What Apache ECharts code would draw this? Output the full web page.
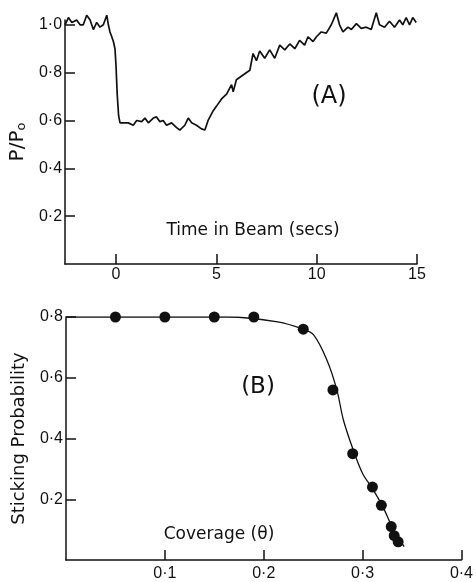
<!DOCTYPE html>
<html>
<head>
<meta charset="utf-8">
<script src="https://cdn.jsdelivr.net/npm/echarts@6/dist/echarts.min.js"></script>
<style>
  html, body { margin: 0; padding: 0; background: #fff; }
  #main { width: 476px; height: 582px; }
</style>
</head>
<body>
<div id="main"></div>
<script>
// (A) pressure ratio vs time in beam
var timeSecs = [-2.54, -2.37, -2.20, -1.96, -1.79, -1.63, -1.46, -1.29, -1.13, -0.96, -0.80, -0.63, -0.46, -0.38, -0.30, -0.21, -0.13, -0.05,
  0.00, 0.06, 0.13, 0.20, 0.36, 0.61, 0.86, 1.03, 1.28, 1.44, 1.61, 1.86, 2.02, 2.19, 2.35, 2.52, 2.77, 3.02, 3.18, 3.43, 3.60, 3.77,
  4.01, 4.26, 4.43, 4.59, 4.84, 5.01, 5.26, 5.51, 5.76, 5.84, 6.00, 6.33, 6.67, 6.83, 7.00, 7.16, 7.41, 7.66, 7.91, 8.16, 8.41, 8.66,
  8.91, 9.15, 9.40, 9.57, 9.82, 9.99, 10.23, 10.48, 10.73, 10.98, 11.14, 11.31, 11.56, 11.73, 11.98, 12.22, 12.47, 12.72, 12.97, 13.13,
  13.38, 13.63, 13.88, 14.13, 14.29, 14.46, 14.63, 14.79, 14.96];
var pRatio = [1.00, 1.03, 1.01, 1.02, 1.00, 1.00, 1.04, 1.02, 0.98, 1.01, 0.99, 1.00, 1.04, 1.00, 0.97, 0.95, 0.93, 0.90,
  0.83, 0.71, 0.62, 0.59, 0.59, 0.59, 0.58, 0.60, 0.595, 0.61, 0.59, 0.61, 0.615, 0.595, 0.60, 0.58, 0.59, 0.57, 0.56, 0.58, 0.61, 0.59,
  0.58, 0.565, 0.56, 0.60, 0.64, 0.66, 0.69, 0.71, 0.75, 0.72, 0.77, 0.79, 0.81, 0.88, 0.85, 0.89, 0.86, 0.895, 0.86, 0.915, 0.895, 0.92,
  0.90, 0.935, 0.915, 0.95, 0.93, 0.95, 0.97, 0.965, 1.00, 1.05, 1.00, 0.97, 0.99, 0.98, 1.005, 0.985, 0.99, 0.98, 1.05, 1.00,
  0.99, 1.015, 0.99, 1.02, 1.00, 1.03, 1.00, 1.03, 1.01];
var timeTicks = [0, 5, 10, 15];
var pTicks = [0.2, 0.4, 0.6, 0.8, 1.0];

// (B) sticking probability vs coverage
var coverage = [0.05, 0.10, 0.15, 0.19, 0.24, 0.27, 0.29, 0.31, 0.319, 0.329, 0.332, 0.336];
var sticking = [0.80, 0.80, 0.80, 0.80, 0.76, 0.56, 0.35, 0.24, 0.18, 0.11, 0.08, 0.06];
var fitCoverage = [0, 0.10, 0.164, 0.214, 0.24, 0.2505, 0.264, 0.274, 0.2806, 0.2906, 0.30, 0.31, 0.3206, 0.3306, 0.342];
var fitSticking = [0.80, 0.80, 0.80, 0.784, 0.76, 0.741, 0.658, 0.56, 0.461, 0.362, 0.285, 0.235, 0.175, 0.104, 0.044];
var covTicks = [0.1, 0.2, 0.3, 0.4];
var stickTicks = [0.2, 0.4, 0.6, 0.8];

function pairs(xs, ys) {
    var out = [];
    for (var i = 0; i < xs.length; i++) out.push([xs[i], ys[i]]);
    return out;
}
function decFmt(v) {
    return v.toFixed(1).replace('.', '\u00b7');
}

var ink = '#111';
var tickFont = { color: ink, fontFamily: 'Liberation Sans', fontSize: 16 };

function axisBase(ticks, fmt, margin) {
    return {
        axisLine: { onZero: false, lineStyle: { color: ink, width: 1.5 } },
        axisTick: { inside: true, length: 10, customValues: ticks, lineStyle: { color: ink, width: 1.5 } },
        axisLabel: Object.assign({ customValues: ticks, formatter: fmt, margin: margin }, tickFont),
        splitLine: { show: false }
    };
}

var myChart = echarts.init(document.getElementById('main'));

var option = {
    backgroundColor: '#fff',
    animation: false,
    grid: [
        { left: 65, top: 20, width: 352, height: 244 },
        { left: 66, top: 317, width: 399, height: 243 }
    ],
    xAxis: [
        Object.assign({ type: 'value', gridIndex: 0, min: -2.54, max: 15 }, axisBase(timeTicks, function (v) { return String(v); }, 3)),
        Object.assign({ type: 'value', gridIndex: 1, min: 0, max: 0.4 }, axisBase(covTicks, decFmt, 6))
    ],
    yAxis: [
        Object.assign({
            type: 'value', gridIndex: 0, min: 0, max: 1.02,
            name: '{a|P/P}{s|o}', nameLocation: 'middle', nameGap: 36, nameRotate: 90,
            nameTextStyle: { rich: {
                a: { fontFamily: 'DejaVu Sans', fontSize: 20, color: ink },
                s: { fontFamily: 'DejaVu Sans', fontSize: 13, color: ink, verticalAlign: 'bottom', padding: [7, 0, 0, 0] }
            } }
        }, axisBase(pTicks, decFmt, 3)),
        Object.assign({
            type: 'value', gridIndex: 1, min: 0, max: 0.8,
            name: 'Sticking Probability', nameLocation: 'middle', nameGap: 38, nameRotate: 90,
            nameTextStyle: { fontFamily: 'DejaVu Sans', fontSize: 18, color: ink }
        }, axisBase(stickTicks, decFmt, 3))
    ],
    graphic: [
        { type: 'text', x: 253, y: 231, style: { text: 'Time in Beam (secs)', fill: ink, font: '17px "DejaVu Sans"', align: 'center', verticalAlign: 'middle' } },
        { type: 'text', x: 329, y: 97, style: { text: '(A)', fill: ink, font: '24px "DejaVu Sans"', align: 'center', verticalAlign: 'middle' } },
        { type: 'text', x: 219, y: 535, style: { text: 'Coverage (\u03b8)', fill: ink, font: '17px "DejaVu Sans"', align: 'center', verticalAlign: 'middle' } },
        { type: 'text', x: 258, y: 387, style: { text: '(B)', fill: ink, font: '23px "DejaVu Sans"', align: 'center', verticalAlign: 'middle' } }
    ],
    series: [
        {
            type: 'line', xAxisIndex: 0, yAxisIndex: 0,
            data: pairs(timeSecs, pRatio),
            showSymbol: false, clip: false,
            lineStyle: { color: ink, width: 1.7 }
        },
        {
            type: 'line', xAxisIndex: 1, yAxisIndex: 1,
            data: pairs(fitCoverage, fitSticking),
            showSymbol: false, smooth: 0.3,
            lineStyle: { color: ink, width: 1.3 }
        },
        {
            type: 'scatter', xAxisIndex: 1, yAxisIndex: 1,
            data: pairs(coverage, sticking),
            symbolSize: 11,
            itemStyle: { color: ink, opacity: 1 }
        }
    ]
};
myChart.setOption(option);
</script>
</body>
</html>
